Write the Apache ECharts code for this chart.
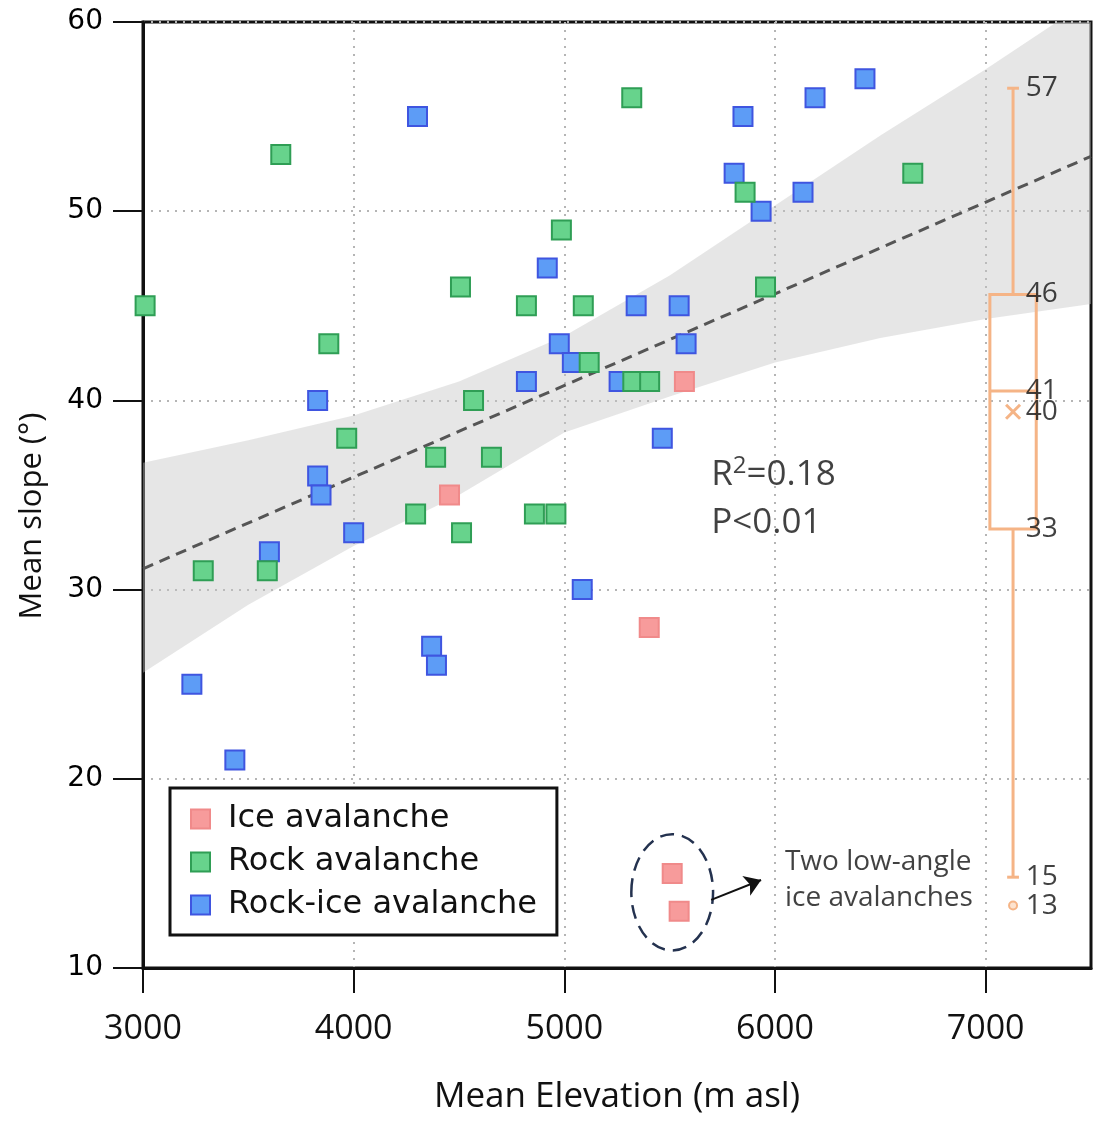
<!DOCTYPE html>
<html>
<head>
<meta charset="utf-8">
<script src="https://cdn.jsdelivr.net/npm/echarts@6/dist/echarts.min.js"></script>
<style>
  html, body { margin: 0; padding: 0; background: #fff; }
  #chart { width: 1102px; height: 1125px; }
</style>
</head>
<body>
<div id="chart"></div>
<script>
// avalanche points: [elevation, slope]
var iceX = [4455, 5570, 5403, 5512, 5545];
var iceY = [35, 41, 28, 15, 13];

var rockX = [3010, 3654, 3882, 3967, 3286, 3590, 4294, 4389, 4507, 4512, 4569, 4654,
             4820, 4858, 4960, 4986, 5090, 5118, 5320, 5325, 5405, 5858, 5955, 6654];
var rockY = [45, 53, 43, 38, 31, 31, 34, 37, 46, 33, 40, 37,
             45, 34, 34, 49, 45, 42, 56, 41, 41, 51, 46, 52];

var rockIceX = [4303, 3829, 3829, 3845, 4000, 3600, 3232, 3436, 4370, 4393, 4820, 4919, 4976,
                5038, 5085, 5260, 5341, 5545, 5578, 5465, 5806, 5848, 5934, 6133, 6190, 6427];
var rockIceY = [55, 40, 36, 35, 33, 32, 25, 21, 27, 26, 41, 47, 43,
                42, 30, 41, 45, 45, 43, 38, 52, 55, 50, 51, 56, 57];

// regression line and its confidence band
var regX = [3000, 7500];
var regY = [31.1, 52.9];
var bandX = [3000, 3500, 4000, 4500, 5000, 5500, 6000, 6500, 7000, 7500];
var bandHigh = [36.7, 37.9, 39.2, 41.0, 43.4, 46.6, 50.3, 54.0, 57.5, 61.2];
var bandLow = [25.6, 29.2, 32.3, 35.0, 38.3, 40.2, 42.0, 43.3, 44.3, 45.1];

// box plot of slopes (drawn positions) and its printed labels
var boxX = 7130;
var boxStats = [14.8, 33.2, 40.5, 45.6, 56.5]; // min, q1, median, q3, max
var boxMean = 39.4;
var boxOutlier = 13.3;
var boxLabelY = [56.5, 45.6, 40.5, 39.4, 33.2, 14.8, 13.3];
var boxLabelText = ['57', '46', '41', '40', '33', '15', '13'];

// circled low-angle ice avalanches
var ringCenter = [5512, 14.0];
var ringRadius = [194, 3.07];
var arrowFrom = [5697, 13.6];
var arrowTo = [5934, 14.65];

var xTicks = [3000, 4000, 5000, 6000, 7000];

var ORANGE = '#f5b486';
var sans = "'Open Sans', sans-serif";

function pairs(xs, ys) {
  return xs.map(function (x, i) { return [x, ys[i]]; });
}

var chart = echarts.init(document.getElementById('chart'));

var option = {
  backgroundColor: '#fff',
  animation: false,
  grid: {
    left: 143, right: 11, top: 22, bottom: 157,
    show: true, borderColor: '#111', borderWidth: 3
  },
  legend: {
    orient: 'vertical',
    left: 170, top: 788,
    padding: [14, 20, 13, 20],
    itemWidth: 19, itemHeight: 19,
    itemGap: 9,
    borderColor: '#111', borderWidth: 3,
    backgroundColor: '#fff',
    data: ['Ice avalanche', 'Rock avalanche', 'Rock-ice avalanche'],
    textStyle: { fontFamily: 'DejaVu Sans', fontSize: 32, color: '#111', lineHeight: 34, padding: [0, 0, 0, 13] }
  },
  xAxis: {
    type: 'value', min: 3000, max: 7500, interval: 1000,
    name: 'Mean Elevation (m asl)', nameLocation: 'middle', nameGap: 112,
    nameTextStyle: { fontFamily: sans, fontSize: 35, color: '#111' },
    axisLine: { lineStyle: { color: '#111', width: 3 } },
    axisTick: { length: 25, customValues: xTicks, lineStyle: { color: '#111', width: 2 } },
    axisLabel: {
      margin: 44, customValues: xTicks, fontFamily: sans, fontSize: 34, color: '#111',
      formatter: function (v) { return String(v); }
    },
    splitLine: { lineStyle: { color: '#b5b5b5', width: 2, type: [2, 6] } }
  },
  yAxis: {
    type: 'value', min: 10, max: 60, interval: 10,
    name: 'Mean slope (°)', nameLocation: 'middle', nameGap: 95,
    nameTextStyle: { fontFamily: sans, fontSize: 31, color: '#111', padding: [0, 42, 0, 0] },
    axisLine: { lineStyle: { color: '#111', width: 3 } },
    axisTick: { length: 30, lineStyle: { color: '#111', width: 2 } },
    axisLabel: { margin: 40, fontFamily: 'DejaVu Sans', fontSize: 28, color: '#000' },
    splitLine: { lineStyle: { color: '#b5b5b5', width: 2, type: [2, 6] } }
  },
  series: [
    {
      type: 'custom', name: 'band', silent: true, clip: true, z: 1,
      data: [[bandX[0], bandLow[0]]],
      renderItem: function (params, api) {
        var pts = [];
        for (var i = 0; i < bandX.length; i++) pts.push(api.coord([bandX[i], bandHigh[i]]));
        for (var j = bandX.length - 1; j >= 0; j--) pts.push(api.coord([bandX[j], bandLow[j]]));
        return { type: 'polygon', shape: { points: pts }, style: { fill: 'rgba(195,195,195,0.42)' } };
      }
    },
    {
      type: 'line', name: 'fit', silent: true, z: 3,
      data: pairs(regX, regY), symbol: 'none',
      lineStyle: { color: '#555', width: 3, type: [11, 7] }
    },
    {
      type: 'scatter', name: 'Rock-ice avalanche', z: 4,
      data: pairs(rockIceX, rockIceY), symbol: 'rect', symbolSize: 19,
      itemStyle: { color: '#5d9cf6', borderColor: '#3f55e0', borderWidth: 2, opacity: 1 }
    },
    {
      type: 'scatter', name: 'Rock avalanche', z: 5,
      data: pairs(rockX, rockY), symbol: 'rect', symbolSize: 19,
      itemStyle: { color: '#67d38c', borderColor: '#2f9e55', borderWidth: 2, opacity: 1 }
    },
    {
      type: 'scatter', name: 'Ice avalanche', z: 6,
      data: pairs(iceX, iceY), symbol: 'rect', symbolSize: 19,
      itemStyle: { color: '#f79b9b', borderColor: '#f08a8a', borderWidth: 2, opacity: 1 }
    },
    {
      type: 'custom', name: 'box', silent: true, z: 6,
      data: [[boxX, boxStats[2]]],
      renderItem: function (params, api) {
        var half = api.size([110, 0])[0];
        var cap = api.size([28, 0])[0];
        var p = boxStats.map(function (v) { return api.coord([boxX, v]); });
        var cx = p[0][0];
        var st = { stroke: ORANGE, lineWidth: 3, fill: null };
        var mean = api.coord([boxX, boxMean]);
        var out = api.coord([boxX, boxOutlier]);
        return {
          type: 'group',
          children: [
            { type: 'line', shape: { x1: cx, y1: p[4][1], x2: cx, y2: p[3][1] }, style: st },
            { type: 'line', shape: { x1: cx, y1: p[1][1], x2: cx, y2: p[0][1] }, style: st },
            { type: 'line', shape: { x1: cx - cap, y1: p[4][1], x2: cx + cap, y2: p[4][1] }, style: st },
            { type: 'line', shape: { x1: cx - cap, y1: p[0][1], x2: cx + cap, y2: p[0][1] }, style: st },
            { type: 'rect', shape: { x: cx - half, y: p[3][1], width: 2 * half, height: p[1][1] - p[3][1] }, style: st },
            { type: 'line', shape: { x1: cx - half, y1: p[2][1], x2: cx + half, y2: p[2][1] }, style: st },
            { type: 'line', shape: { x1: mean[0] - 7, y1: mean[1] - 7, x2: mean[0] + 7, y2: mean[1] + 7 }, style: st },
            { type: 'line', shape: { x1: mean[0] - 7, y1: mean[1] + 7, x2: mean[0] + 7, y2: mean[1] - 7 }, style: st },
            { type: 'circle', shape: { cx: out[0], cy: out[1], r: 4 }, style: { stroke: ORANGE, lineWidth: 2, fill: '#fde3cf' } }
          ]
        };
      }
    },
    {
      type: 'scatter', name: 'boxLabels', silent: true, z: 7,
      data: boxLabelY.map(function (y, i) { return [boxX + 60, y, boxLabelText[i]]; }),
      symbolSize: 0,
      label: {
        show: true, position: 'right', distance: 0,
        formatter: function (p) { return p.value[2]; },
        fontFamily: sans, fontSize: 28, color: '#111'
      }
    },
    {
      type: 'custom', name: 'ring', silent: true, z: 7,
      data: [ringCenter],
      renderItem: function (params, api) {
        var c = api.coord(ringCenter);
        var r = api.size(ringRadius);
        return {
          type: 'ellipse',
          shape: { cx: c[0], cy: c[1], rx: r[0], ry: r[1] },
          style: { stroke: '#24324f', lineWidth: 2.5, fill: null, lineDash: [14, 8] }
        };
      }
    },
    {
      type: 'lines', name: 'arrow', coordinateSystem: 'cartesian2d', silent: true, z: 7,
      symbol: ['none', 'arrow'], symbolSize: 16,
      lineStyle: { color: '#111', width: 2, opacity: 1 },
      data: [{ coords: [arrowFrom, arrowTo] }]
    },
    {
      type: 'scatter', name: 'notes', silent: true, z: 8,
      symbolSize: 0,
      data: [
        { value: [5697, 36.05], label: { formatter: 'R{sup|2}=0.18' } },
        { value: [5697, 33.5], label: { formatter: 'P<0.01' } },
        { value: [6047, 15.6], label: { formatter: 'Two low-angle', fontSize: 28 } },
        { value: [6047, 13.7], label: { formatter: 'ice avalanches', fontSize: 28 } }
      ],
      label: {
        show: true, position: 'right', distance: 0,
        fontFamily: sans, fontSize: 35, color: '#111',
        rich: { sup: { fontFamily: sans, fontSize: 24, verticalAlign: 'top', padding: [0, 0, 18, 0] } }
      }
    }
  ]
};

chart.setOption(option);
</script>
</body>
</html>
